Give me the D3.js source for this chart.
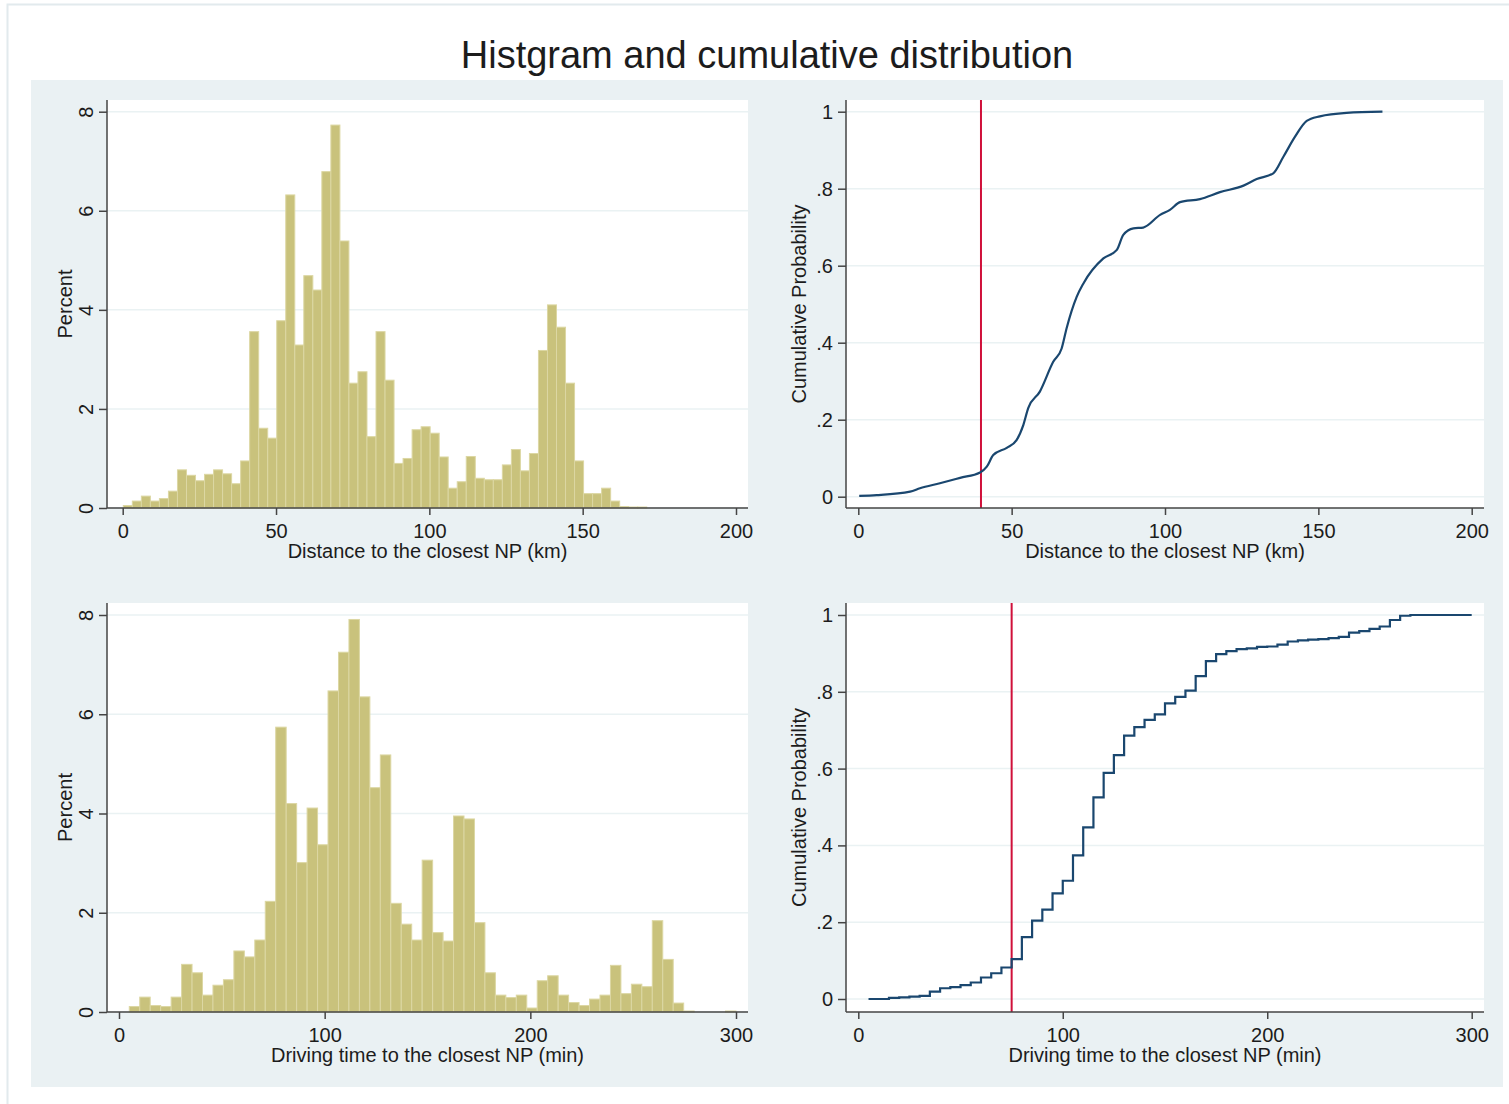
<!DOCTYPE html>
<html>
<head>
<meta charset="utf-8">
<script src="https://cdn.jsdelivr.net/npm/d3@7"></script>
<style>
  body { margin: 0; background: #fff; }
  text { font-family: "Liberation Sans", Arial, Helvetica, sans-serif; fill: #1c1c1c; }
</style>
</head>
<body>
<div class="chart"></div>
<script>
      // histogram of distance (km), percent per bin
      var distPercent = [0.05, 0.14, 0.24, 0.14, 0.19, 0.34, 0.77, 0.66, 0.55, 0.68, 0.77, 0.69, 0.49,
                         0.95, 3.56, 1.61, 1.41, 3.78, 6.32, 3.29, 4.69, 4.40, 6.79, 7.73, 5.39,
                         2.52, 2.75, 1.44, 3.56, 2.58, 0.90, 1.00, 1.58, 1.64,
                         1.51, 1.03, 0.40, 0.53, 1.04, 0.60, 0.57, 0.57, 0.87, 1.18, 0.75, 1.10,
                         3.18, 4.10, 3.65, 2.52, 0.95, 0.29, 0.29, 0.40, 0.14, 0.03, 0.02, 0.02];
      var distBinStart = 0.2, distBinWidth = 2.943;

      // histogram of driving time (min), percent per bin
      var timePercent = [0.11, 0.30, 0.13, 0.11, 0.30, 0.96, 0.79, 0.34, 0.54, 0.65, 1.23, 1.11, 1.45, 2.23,
                         5.74, 4.20, 3.01, 4.11, 3.37, 6.47, 7.25, 7.91, 6.35, 4.52, 5.18, 2.19, 1.77, 1.45, 3.06,
                         1.60, 1.43, 3.95, 3.89, 1.80, 0.79, 0.34, 0.29, 0.34, 0.08, 0.63, 0.73, 0.34, 0.19,
                         0.13, 0.26, 0.34, 0.94, 0.37, 0.56, 0.51, 1.84, 1.06, 0.18, 0.02, 0, 0, 0, 0.02];
      var timeBinStart = 5.0, timeBinWidth = 5.086;

      // cumulative distribution of distance
      var distCdfKm   = [0.3, 6.0, 16.9, 20.1, 26.6, 33.2, 39.7, 41.9, 44.0, 48.4,
                         51.6, 53.8, 55.4, 59.2, 63.6, 66.3, 67.9, 71.2, 73.4, 79.9,
                         84.3, 86.4, 89.7, 92.9, 98.4, 101.6, 104.9, 111.4, 117.9, 125.6,
                         129.9, 135.3, 138.6, 142.4, 146.2, 150.5, 159.2, 170.9];
      var distCdfProb = [0.002, 0.004, 0.013, 0.022, 0.035, 0.049, 0.063, 0.078, 0.108, 0.127,
                         0.147, 0.186, 0.230, 0.273, 0.351, 0.385, 0.437, 0.519, 0.554, 0.619,
                         0.641, 0.680, 0.697, 0.699, 0.732, 0.745, 0.765, 0.773, 0.791, 0.808,
                         0.825, 0.840, 0.883, 0.935, 0.976, 0.988, 0.997, 1.0];

      // cumulative distribution of driving time (steps)
      var timeCdfMin  = [5, 15, 20, 25, 30, 35, 40, 45, 50, 55, 60, 65, 70, 75, 80, 85, 90, 95, 100,
                         105, 110, 115, 120, 125, 130, 135, 140, 145, 150, 155, 160, 165, 170, 175, 180,
                         185, 190, 195, 200, 205, 210, 215, 220, 225, 230, 235, 240, 245, 250, 255, 260,
                         265, 270, 300];
      var timeCdfProb = [0.000, 0.003, 0.004, 0.006, 0.008, 0.019, 0.028, 0.031, 0.036, 0.043, 0.056, 0.067, 0.082,
                         0.104, 0.161, 0.204, 0.233, 0.275, 0.308, 0.374, 0.447, 0.525, 0.589, 0.635, 0.686,
                         0.708, 0.727, 0.741, 0.770, 0.787, 0.803, 0.841, 0.880, 0.898, 0.906, 0.911, 0.913,
                         0.917, 0.918, 0.923, 0.931, 0.934, 0.936, 0.937, 0.940, 0.943, 0.954, 0.958, 0.964,
                         0.970, 0.987, 0.998, 1.000, 1.000];

      var distCutoff = 40, timeCutoff = 75;

      var histTicks = [0, 2, 4, 6, 8];
      var probTicks = [0, 0.2, 0.4, 0.6, 0.8, 1];
      var distTicks = [0, 50, 100, 150, 200];
      var timeTicks = [0, 100, 200, 300];

      var distTitle = "Distance to the closest NP (km)";
      var timeTitle = "Driving time to the closest NP (min)";

      var axisColor = "#444",
          gridColor = "#eaf2f3",
          barFill = "#c9c27c",
          barEdge = "#dcd7a3",
          lineColor = "#1a476f",
          cutColor = "#d0103a";

      var svg = d3.select(".chart").append("svg")
                  .attr("width", 1509)
                  .attr("height", 1104);

      // outer frame + graph region
      svg.append("rect")
         .attr("x", 7.5).attr("y", 4.5)
         .attr("width", 1510).attr("height", 1110)
         .attr("fill", "#fff")
         .attr("stroke", "#e2eaed")
         .attr("stroke-width", 2);

      svg.append("rect")
         .attr("x", 31).attr("y", 80)
         .attr("width", 1472).attr("height", 1007)
         .attr("fill", "#eaf1f3");

      svg.append("text")
         .attr("x", 767)
         .attr("y", 68)
         .attr("text-anchor", "middle")
         .style("font-size", "38px")
         .text("Histgram and cumulative distribution");

      function makePanel(left, top, w, h, xDomain, xPad, yDomain, yPad) {
        var g = svg.append("g")
                   .attr("transform", "translate(" + left + "," + top + ")");
        g.append("rect")
         .attr("width", w)
         .attr("height", h)
         .attr("fill", "#fff");
        var x = d3.scaleLinear().domain(xDomain).range([xPad[0], w - xPad[1]]);
        var y = d3.scaleLinear().domain(yDomain).range([h - yPad[0], yPad[1]]);
        return {g: g, x: x, y: y, w: w, h: h};
      }

      function drawGrid(p, ticks) {
        p.g.selectAll(".grid")
           .data(ticks)
           .enter().append("line")
           .attr("class", "grid")
           .attr("x1", 0)
           .attr("x2", p.w)
           .attr("y1", function(d) { return p.y(d); })
           .attr("y2", function(d) { return p.y(d); })
           .attr("stroke", gridColor)
           .attr("stroke-width", 1.5);
      }

      function drawAxes(p, xTicks, yTicks, rotateY, xTitle, yTitle, yTitleX) {
        var xa = p.g.append("g")
                    .attr("transform", "translate(0," + p.h + ")")
                    .call(d3.axisBottom(p.x).tickValues(xTicks).tickSize(7).tickPadding(9).tickFormat(d3.format("d")));
        var ya = p.g.append("g")
                    .call(d3.axisLeft(p.y).tickValues(yTicks).tickSize(8).tickPadding(5)
                    .tickFormat(function(d) {
                       if (d === 0 || d >= 1) return d3.format("d")(d);
                       return d3.format(".1f")(d).replace(/^0/, "");
                     }));

        [xa, ya].forEach(function(a) {
          a.select(".domain").remove();
          a.selectAll(".tick line").attr("stroke", axisColor).attr("stroke-width", 1.5);
          a.selectAll(".tick text")
           .style("font-size", "20px")
           .style("font-family", "'Liberation Sans', Arial, sans-serif")
           .attr("fill", "#1c1c1c");
        });

        if (rotateY) {
          ya.selectAll(".tick text")
            .attr("transform", "rotate(-90)")
            .attr("text-anchor", "middle")
            .attr("x", 0)
            .attr("y", -14.5)
            .attr("dy", 0);
        }

        // axis lines along the full plot region
        p.g.append("line")
           .attr("x1", 0).attr("x2", p.w)
           .attr("y1", p.h).attr("y2", p.h)
           .attr("stroke", axisColor).attr("stroke-width", 1.5);
        p.g.append("line")
           .attr("x1", 0).attr("x2", 0)
           .attr("y1", 0).attr("y2", p.h)
           .attr("stroke", axisColor).attr("stroke-width", 1.5);

        p.g.append("text")
           .attr("x", p.w / 2)
           .attr("y", p.h + 50)
           .attr("text-anchor", "middle")
           .style("font-size", "20px")
           .text(xTitle);

        p.g.append("text")
           .attr("transform", "translate(" + yTitleX + "," + (p.h / 2) + ") rotate(-90)")
           .attr("text-anchor", "middle")
           .style("font-size", "20px")
           .text(yTitle);
      }

      function drawHist(p, values, start, width) {
        p.g.selectAll(".bar")
           .data(values)
           .enter().append("rect")
           .attr("class", "bar")
           .attr("x", function(d, i) { return p.x(start + i * width); })
           .attr("width", function(d, i) { return p.x(start + (i + 1) * width) - p.x(start + i * width); })
           .attr("y", function(d) { return p.y(d); })
           .attr("height", function(d) { return p.y(0) - p.y(d); })
           .attr("fill", barFill)
           .attr("stroke", barEdge)
           .attr("stroke-width", 1);
      }

      function drawCdf(p, xs, ps, curve, cut) {
        p.g.append("line")
           .attr("x1", p.x(cut)).attr("x2", p.x(cut))
           .attr("y1", 0).attr("y2", p.h)
           .attr("stroke", cutColor)
           .attr("stroke-width", 2);

        var line = d3.line()
                     .curve(curve)
                     .x(function(d) { return p.x(d[0]); })
                     .y(function(d) { return p.y(d[1]); });

        p.g.append("path")
           .datum(xs.map(function(v, i) { return [v, ps[i]]; }))
           .attr("d", line)
           .attr("fill", "none")
           .attr("stroke", lineColor)
           .attr("stroke-width", 2.2);
      }

      // top left: distance histogram
      var p1 = makePanel(107, 100, 641, 408, [0, 200], [15.7, 12], [0, 8], [0, 11.7]);
      drawGrid(p1, histTicks);
      drawHist(p1, distPercent, distBinStart, distBinWidth);
      drawAxes(p1, distTicks, histTicks, true, distTitle, "Percent", -35.5);

      // top right: distance cdf
      var p2 = makePanel(846, 100, 638, 408, [0, 200], [12.3, 12.3], [0, 1], [11.3, 11.7]);
      drawGrid(p2, probTicks);
      drawCdf(p2, distCdfKm, distCdfProb, d3.curveMonotoneX, distCutoff);
      drawAxes(p2, distTicks, probTicks, false, distTitle, "Cumulative Probability", -40);

      // bottom left: driving time histogram
      var p3 = makePanel(107, 603, 641, 409, [0, 300], [12, 12], [0, 8], [0, 12]);
      drawGrid(p3, histTicks);
      drawHist(p3, timePercent, timeBinStart, timeBinWidth);
      drawAxes(p3, timeTicks, histTicks, true, timeTitle, "Percent", -35.5);

      // bottom right: driving time cdf
      var p4 = makePanel(846, 603, 638, 409, [0, 300], [12.3, 12.3], [0, 1], [13, 12]);
      drawGrid(p4, probTicks);
      drawCdf(p4, timeCdfMin, timeCdfProb, d3.curveStepAfter, timeCutoff);
      drawAxes(p4, timeTicks, probTicks, false, timeTitle, "Cumulative Probability", -40);
</script>
</body>
</html>
